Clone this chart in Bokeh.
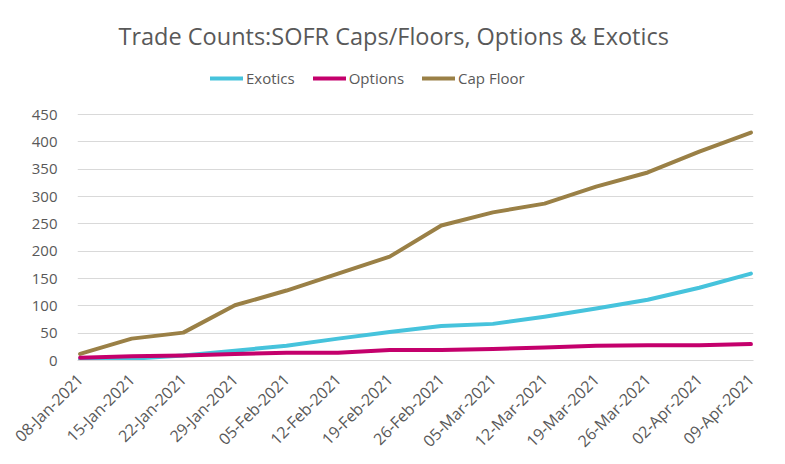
import math
from bokeh.plotting import figure
from bokeh.models import ColumnDataSource, FixedTicker, Range1d, Legend, LegendItem
from bokeh.embed import file_html
from bokeh.resources import INLINE

dates = ["08-Jan-2021", "15-Jan-2021", "22-Jan-2021", "29-Jan-2021", "05-Feb-2021",
         "12-Feb-2021", "19-Feb-2021", "26-Feb-2021", "05-Mar-2021", "12-Mar-2021",
         "19-Mar-2021", "26-Mar-2021", "02-Apr-2021", "09-Apr-2021"]
exotics = [2, 3, 9, 18, 27, 40, 52, 63, 67, 80, 95, 111, 133, 159]
options = [5, 8, 9, 12, 14, 14, 19, 19, 21, 24, 27, 28, 28, 30]
cap_floor = [12, 40, 51, 101, 128, 159, 190, 247, 271, 287, 318, 344, 382, 417]
y_ticks = [0, 50, 100, 150, 200, 250, 300, 350, 400, 450]

x_idx = list(range(len(dates)))
src = ColumnDataSource(dict(x=x_idx, exotics=exotics, options=options, cap_floor=cap_floor))

FONT = "Open Sans"
GREY = "#595959"

# frame spans page y 56..360; value 450 sits at y=114 (extra headroom holds the legend)
p = figure(width=777, height=462, output_backend="svg", toolbar_location=None,
           x_range=Range1d(-0.05, 13.05), y_range=Range1d(0, 556.1),
           min_border_left=77, min_border_right=24, min_border_top=56, min_border_bottom=102)
p.outline_line_color = None
p.background_fill_color = "white"

p.title.text = "Trade Counts:SOFR Caps/Floors, Options & Exotics"
p.title.text_font = FONT
p.title.text_font_size = "23.5px"
p.title.text_font_style = "normal"
p.title.text_color = GREY
p.title.align = "left"
p.title.offset = 41

r_cap = p.line("x", "cap_floor", source=src, line_color="#9A8046", line_width=4, line_cap="round", line_join="round")
r_opt = p.line("x", "options", source=src, line_color="#C4006C", line_width=4, line_cap="round", line_join="round")
r_exo = p.line("x", "exotics", source=src, line_color="#46C3DC", line_width=4, line_cap="round", line_join="round")
p.renderers = [r_cap, r_exo, r_opt]

legend = Legend(items=[LegendItem(label="Exotics", renderers=[r_exo]),
                       LegendItem(label="Options", renderers=[r_opt]),
                       LegendItem(label="Cap Floor", renderers=[r_cap])],
                orientation="horizontal", location=(133, 272),
                border_line_color=None, background_fill_alpha=0,
                label_text_font=FONT, label_text_font_size="15px", label_text_color=GREY,
                glyph_width=33, glyph_height=16, label_standoff=3, spacing=18,
                padding=0, margin=0)
p.add_layout(legend, "center")

p.xaxis.ticker = FixedTicker(ticks=x_idx)
p.xaxis.major_label_overrides = {i: d for i, d in enumerate(dates)}
p.xaxis.major_label_orientation = math.pi / 4
p.xaxis.major_label_text_font = FONT
p.xaxis.major_label_text_font_size = "16px"
p.xaxis.major_label_text_color = GREY
p.xaxis.axis_line_color = "#D9D9D9"
p.xaxis.axis_line_width = 1
p.xaxis.major_tick_line_color = None
p.xaxis.minor_tick_line_color = None
p.xaxis.major_label_standoff = 10

p.yaxis.ticker = FixedTicker(ticks=y_ticks)
p.yaxis.major_label_text_font = FONT
p.yaxis.major_label_text_font_size = "15px"
p.yaxis.major_label_text_color = GREY
p.yaxis.axis_line_color = None
p.yaxis.major_tick_line_color = None
p.yaxis.minor_tick_line_color = None
p.yaxis.major_label_standoff = 14

p.xgrid.grid_line_color = None
p.ygrid.grid_line_color = "#D9D9D9"
p.ygrid.grid_line_width = 1

open("out.html", "w").write(file_html(p, INLINE))
